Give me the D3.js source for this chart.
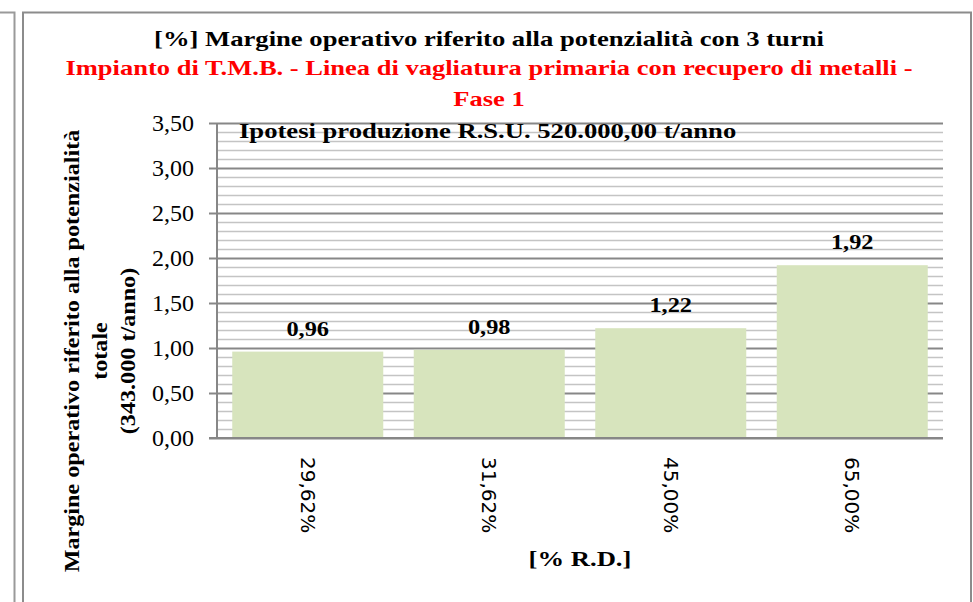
<!DOCTYPE html>
<html>
<head>
<meta charset="utf-8">
<script src="https://cdn.jsdelivr.net/npm/d3@7"></script>
<style>
  body { margin: 0; background: #fff; }
  svg { display: block; }
</style>
</head>
<body>
<div id="chart"></div>
<script>
// chart data
var categories = ["29,62%", "31,62%", "45,00%", "65,00%"];
var values = [0.96, 0.98, 1.22, 1.92];
var yTickValues = [0, 0.5, 1, 1.5, 2, 2.5, 3, 3.5];
var titleLines = ["[%] Margine operativo riferito alla potenzialità con 3 turni"];
var subtitleLines = ["Impianto di T.M.B. - Linea di vagliatura primaria con recupero di metalli -", "Fase 1"];
var yTitleLines = ["Margine operativo riferito alla potenzialità", "totale", "(343.000 t/anno)"];
var xTitle = "[% R.D.]";
var note = "Ipotesi produzione R.S.U. 520.000,00 t/anno";

var W = 973, H = 602;
var plot = {left: 217, right: 943, top: 123, bottom: 438};
var serif = "'Liberation Serif', 'Times New Roman', serif";

var it = d3.formatLocale({decimal: ",", thousands: ".", grouping: [3], currency: ["", "€"]});
var fmt = it.format(".2f");

// the original font is a bit wider than Liberation Serif
function widen(sel, k) {
  sel.each(function () {
    var L = this.getComputedTextLength();
    d3.select(this).attr("textLength", L * k).attr("lengthAdjust", "spacingAndGlyphs");
  });
}

var svg = d3.select("#chart").append("svg").attr("width", W).attr("height", H);

// page frames
svg.append("path").attr("d", "M0,12.5H14.5V602")
  .attr("fill", "none").attr("stroke", "#9a9a9a").attr("stroke-width", 2);
svg.append("rect").attr("x", 23).attr("y", 12.5).attr("width", 948).attr("height", 620)
  .attr("fill", "#fff").attr("stroke", "#8c8c8c").attr("stroke-width", 2);

var x = d3.scaleBand().domain(categories).range([plot.left, plot.right])
  .paddingInner(0.168).paddingOuter(0.084);
var y = d3.scaleLinear().domain([0, 3.5]).range([plot.bottom, plot.top]);

// minor grid
svg.append("g").selectAll("line").data(y.ticks(35).filter(function (d) {
    return yTickValues.indexOf(+d.toFixed(2)) < 0;
  })).enter().append("line")
  .attr("x1", plot.left).attr("x2", plot.right)
  .attr("y1", function (d) { return Math.round(y(d)) + 0.5; })
  .attr("y2", function (d) { return Math.round(y(d)) + 0.5; })
  .attr("stroke", "#c4c4c4").attr("stroke-width", 1.5);

// major grid + y axis
var yAxis = svg.append("g").attr("transform", "translate(" + plot.left + ",0)")
  .call(d3.axisLeft(y).tickValues(yTickValues).tickFormat(fmt)
    .tickSize(8).tickPadding(15));
yAxis.select(".domain").remove();
yAxis.selectAll(".tick line").attr("stroke", "#878787").attr("stroke-width", 2);
yAxis.selectAll(".tick").append("line")
  .attr("x1", 0).attr("x2", plot.right - plot.left)
  .attr("stroke", "#878787").attr("stroke-width", 2);
yAxis.selectAll(".tick text")
  .style("font-family", serif).style("font-size", "24px").attr("fill", "#000");

svg.append("line").attr("x1", plot.left).attr("x2", plot.left)
  .attr("y1", plot.top).attr("y2", plot.bottom)
  .attr("stroke", "#878787").attr("stroke-width", 2);

// bars
svg.append("g").selectAll("rect").data(values).enter().append("rect")
  .attr("x", function (d, i) { return x(categories[i]); })
  .attr("width", x.bandwidth())
  .attr("y", function (d) { return y(d); })
  .attr("height", function (d) { return y(0) - y(d); })
  .attr("fill", "#d7e4bd");

// x axis
var xAxis = svg.append("g").attr("transform", "translate(0," + plot.bottom + ")")
  .call(d3.axisBottom(x).tickSize(0).tickPadding(0));
xAxis.select(".domain").remove();
svg.append("line").attr("x1", plot.left - 8).attr("x2", plot.right)
  .attr("y1", plot.bottom).attr("y2", plot.bottom)
  .attr("stroke", "#878787").attr("stroke-width", 2);
xAxis.selectAll(".tick text")
  .attr("transform", "translate(0,19) rotate(90)")
  .attr("text-anchor", "start").attr("dy", "0.35em").attr("y", 0)
  .style("font-family", "'DejaVu Sans', Verdana, sans-serif").style("font-size", "20px")
  .attr("fill", "#000");

// value labels
svg.append("g").selectAll("text").data(values).enter().append("text")
  .attr("x", function (d, i) { return x(categories[i]) + x.bandwidth() / 2; })
  .attr("y", function (d) { return y(d) - 16; })
  .attr("text-anchor", "middle")
  .style("font-family", serif).style("font-size", "21px").style("font-weight", "bold")
  .text(function (d) { return fmt(d); })
  .call(widen, 1.16);

// titles
var cx = 489;
svg.append("text").attr("x", cx).attr("y", 46).attr("text-anchor", "middle")
  .style("font-family", serif).style("font-size", "22px").style("font-weight", "bold")
  .text(titleLines[0])
  .call(widen, 1.21);
svg.append("g").selectAll("text").data(subtitleLines).enter().append("text")
  .attr("x", cx).attr("y", function (d, i) { return 75 + i * 31; })
  .attr("text-anchor", "middle").attr("fill", "#ff0000")
  .style("font-family", serif).style("font-size", "22px").style("font-weight", "bold")
  .text(function (d) { return d; })
  .call(widen, 1.205);

svg.append("text").attr("x", 239).attr("y", 138)
  .style("font-family", serif).style("font-size", "22px").style("font-weight", "bold")
  .text(note)
  .call(widen, 1.21);

svg.append("g").attr("transform", "translate(0,351) rotate(-90)")
  .selectAll("text").data(yTitleLines).enter().append("text")
  .attr("x", 0).attr("y", function (d, i) { return 79 + i * 28; })
  .attr("text-anchor", "middle")
  .style("font-family", serif).style("font-size", "21px").style("font-weight", "bold")
  .text(function (d) { return d; })
  .call(widen, 1.15);

svg.append("text").attr("x", 580).attr("y", 566).attr("text-anchor", "middle")
  .style("font-family", serif).style("font-size", "22px").style("font-weight", "bold")
  .text(xTitle)
  .call(widen, 1.21);
</script>
</body>
</html>
